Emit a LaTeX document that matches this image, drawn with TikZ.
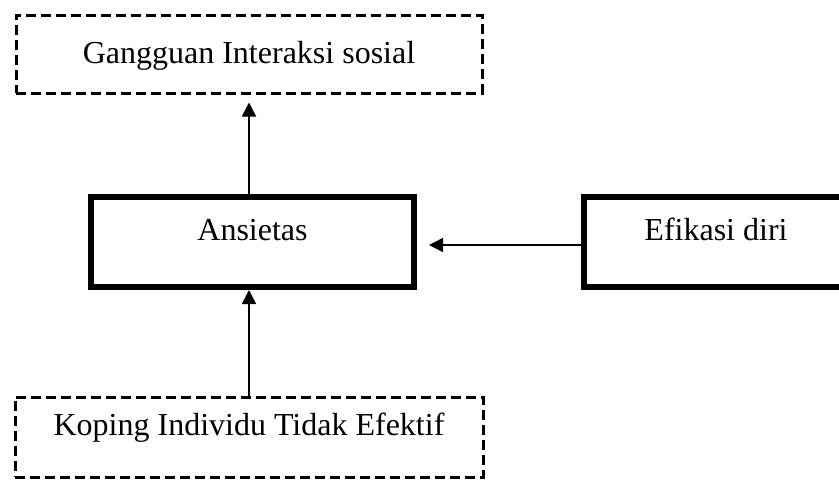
\documentclass[tikz,border=0pt]{standalone}
\usepackage{fontspec}
\setmainfont{Liberation Serif}
\usetikzlibrary{arrows.meta}

\newlength{\du}
\setlength{\du}{0.5pt}

\tikzset{
  dashbox/.style={draw, line width=3\du, dash pattern=on 10\du off 5\du,
    rectangle, inner sep=0pt, font=\fontsize{16}{19}\selectfont},
  thickbox/.style={draw, line width=6\du, rectangle, inner sep=0pt,
    font=\fontsize{16}{19}\selectfont, text height=11pt, text depth=13pt},
  link/.style={line width=1.5\du, -{Triangle[length=7pt,width=7pt]}}
}

\begin{document}
\begin{tikzpicture}[yscale=-1]
\useasboundingbox (0\du,0\du) rectangle (839\du,482\du);
\definecolor{dialinecolor}{rgb}{0.000000, 0.000000, 0.000000}
% dashed boxes
\node[dashbox, minimum width=466\du, minimum height=78\du,
  text height=12pt, text depth=3pt] (gangguan) at (249.000000\du,54.000000\du){Gangguan Interaksi sosial};
\node[dashbox, minimum width=468\du, minimum height=80\du,
  text height=11pt, text depth=13pt] (koping) at (249.000000\du,437.000000\du){Koping Individu Tidak Efektif};
% thick boxes
\node[thickbox, minimum width=323\du, minimum height=90\du] (ansietas) at (252.500000\du,242.000000\du){Ansietas};
\node[thickbox, minimum width=264\du, minimum height=90\du] (efikasi) at (716.000000\du,242.000000\du){Efikasi diri};
% arrows
\draw[link, shorten >=4pt] (gangguan.south |- ansietas.north)--(gangguan.south);
\draw[link] (koping.north)--(koping.north |- ansietas.south);
\draw[link, shorten >=6pt] ([yshift=1.5pt]efikasi.west)--([yshift=1.5pt]ansietas.east);
\end{tikzpicture}
\end{document}
